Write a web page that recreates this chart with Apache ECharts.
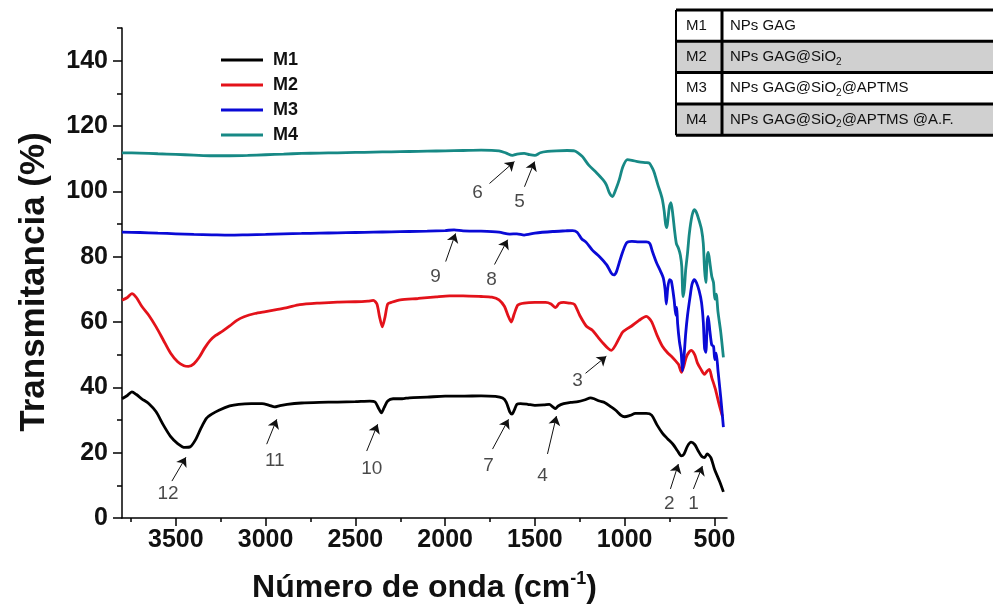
<!DOCTYPE html>
<html>
<head>
<meta charset="utf-8">
<script src="https://cdn.jsdelivr.net/npm/echarts@6/dist/echarts.min.js"></script>
<style>html,body{margin:0;padding:0;background:#fff;}#c{width:993px;height:611px;}</style>
</head>
<body>
<div id="c"></div>
<script>
// ---- data ----
const seriesNames = ['M1', 'M2', 'M3', 'M4'];

const wnM1 = [3800,3770,3745,3720,3690,3650,3610,3570,3530,3490,3450,3420,3390,3360,3330,3300,3260,3200,3150,3080,3020,2980,2950,2920,2880,2800,2700,2600,2500,2420,2390,2370,2355,2340,2320,2290,2240,2200,2100,2000,1900,1800,1720,1680,1660,1640,1628,1615,1600,1580,1540,1500,1450,1420,1400,1385,1370,1340,1300,1260,1220,1190,1170,1140,1110,1080,1050,1020,1000,970,940,880,850,820,790,760,730,705,685,670,650,630,610,590,570,555,540,520,500,470,450];
const tM1 = [36.5,37.5,38.6,37.8,36.5,35.0,32.5,28.5,25.0,22.8,21.6,21.8,24.0,27.5,30.5,31.8,33.0,34.3,34.8,35.0,35.0,34.5,34.0,34.4,34.8,35.2,35.4,35.5,35.6,35.8,35.5,33.5,32.2,33.8,35.8,36.5,36.5,36.8,37.0,37.3,37.3,37.4,37.2,36.7,35.5,32.5,31.8,33.0,34.8,35.0,34.8,34.5,34.6,34.8,34.0,33.5,34.3,35.0,35.4,35.6,36.2,36.8,36.5,35.8,35.3,34.2,33.0,31.4,31.0,31.4,32.0,32.0,31.5,28.5,26.0,24.2,22.5,20.5,19.0,19.5,22.0,23.2,22.5,20.5,18.8,18.5,19.6,18.5,15.0,11.0,8.0];

const wnM2 = [3800,3770,3745,3720,3690,3650,3610,3570,3530,3490,3455,3430,3400,3370,3340,3310,3280,3240,3200,3160,3120,3060,3000,2940,2880,2810,2700,2600,2500,2430,2400,2380,2365,2350,2335,2320,2300,2250,2150,2050,1975,1900,1800,1740,1700,1670,1650,1632,1615,1595,1560,1500,1440,1410,1385,1365,1340,1310,1280,1250,1213,1180,1152,1120,1090,1074,1050,1013,990,963,920,880,851,820,790,760,740,715,700,684,670,655,630,610,595,575,556,540,528,515,495,475,455];
const tM2 = [66.7,67.5,68.7,67.5,64.8,62.0,58.5,54.5,50.5,47.8,46.6,46.4,47.2,49.2,52.0,54.3,55.8,57.2,58.8,60.5,61.6,62.6,63.2,63.8,64.4,65.3,65.8,66.1,66.2,66.4,66.6,65.5,61.5,58.5,61.5,65.5,66.0,66.8,67.2,67.7,68.0,68.0,67.8,67.6,66.8,64.8,62.0,60.0,62.5,65.2,65.8,66.0,66.0,65.5,64.4,65.7,66.0,65.8,65.4,62.0,58.7,57.5,55.6,53.5,51.8,51.3,53.0,56.8,57.8,58.7,60.5,61.7,60.2,56.0,52.6,50.5,49.5,48.0,47.0,44.6,46.5,49.5,51.3,50.0,47.5,45.5,44.0,45.0,45.5,43.0,39.5,35.0,31.0];

const wnM3 = [3800,3700,3600,3500,3400,3300,3200,3100,3000,2900,2800,2700,2600,2500,2400,2300,2200,2100,2000,1950,1900,1800,1700,1640,1600,1560,1500,1400,1330,1290,1265,1240,1213,1180,1140,1100,1075,1060,1045,1020,990,960,920,880,860,845,823,800,785,775,768,760,750,740,725,715,710,705,695,685,678,670,660,650,635,625,612,600,585,572,562,555,548,540,535,525,515,505,498,490,480,465,450];
const tM3 = [87.5,87.4,87.2,87.0,86.8,86.7,86.6,86.7,86.8,87.0,87.1,87.2,87.3,87.4,87.5,87.6,87.7,87.8,88.0,88.2,87.9,87.8,87.5,86.9,87.0,86.6,87.2,87.7,87.9,88.0,87.5,85.5,84.3,82.0,80.0,77.5,75.0,74.4,75.5,80.0,84.2,84.7,84.5,84.5,84.0,81.5,78.2,75.5,73.5,70.0,65.5,70.5,73.0,72.5,67.0,62.0,64.5,59.5,54.0,50.5,45.0,49.0,56.5,62.0,68.0,71.5,73.0,72.0,69.5,66.0,60.0,52.0,50.7,60.0,61.7,57.0,53.0,52.5,48.5,50.5,45.0,37.0,27.8];

const wnM4 = [3800,3700,3600,3500,3400,3300,3200,3100,3000,2900,2800,2700,2600,2500,2400,2300,2200,2100,2000,1900,1800,1700,1660,1625,1600,1560,1530,1500,1470,1430,1380,1320,1280,1260,1235,1200,1157,1120,1102,1085,1068,1050,1030,1010,985,960,920,880,862,845,835,815,800,790,780,772,765,758,750,742,732,722,712,700,690,682,675,668,660,650,640,625,612,600,585,572,562,555,548,540,534,525,515,505,498,490,480,465,450];
const tM4 = [111.8,111.7,111.5,111.3,111.1,110.9,110.9,111.0,111.2,111.4,111.6,111.7,111.8,111.9,112.0,112.1,112.2,112.3,112.4,112.5,112.6,112.4,111.7,111.0,111.4,111.6,111.2,111.0,111.8,112.2,112.4,112.5,112.4,111.8,110.6,108.0,105.7,103.5,102.0,99.5,98.4,100.5,103.6,107.5,109.7,109.5,109.0,108.8,108.6,107.0,105.7,102.0,99.5,97.5,94.0,90.0,88.9,92.0,95.5,96.5,93.0,88.0,84.0,82.5,80.5,77.0,67.8,70.0,76.0,81.0,87.0,92.5,94.4,93.5,91.0,88.3,84.0,76.0,72.1,80.0,81.3,78.0,74.0,72.0,67.0,68.5,63.0,57.0,49.2];

// tick values
const xMajorTicks = [500,1000,1500,2000,2500,3000,3500];
const xMinorTicks = [750,1250,1750,2250,2750,3250,3750];
const yMajorTicks = [0,20,40,60,80,100,120,140];
const yMinorTicks = [10,30,50,70,90,110,130,150];

// peak annotations: label text, label position, arrow tail, arrow head (data units)
const annText  = ['12','11','10','9','8','7','4','3','6','5','2','1'];
const annLabelX = [3544,2949,2409,2053,1742,1758,1458,1263,1819,1586,751,617];
const annLabelY = [7.3,17.4,15.0,73.9,73.0,15.9,12.8,41.9,99.6,96.9,4.3,4.3];
const annTailX = [3522,2994,2437,1997,1725,1736,1430,1218,1753,1558,745,617];
const annTailY = [11.3,22.6,20.5,78.5,77.6,21.1,19.6,44.3,102.4,101.4,8.9,8.9];
const annHeadX = [3444,2938,2376,1942,1652,1647,1380,1102,1614,1502,701,567];
const annHeadY = [18.6,30.2,28.7,87.1,85.2,30.2,31.2,49.5,109.1,109.1,16.5,15.9];

// sample table
const tableCodes = ['M1','M2','M3','M4'];
const tableDesc = ['NPs GAG','NPs GAG@SiO{s|2}','NPs GAG@SiO{s|2}@APTMS','NPs GAG@SiO{s|2}@APTMS @A.F.'];

// ---- build ----
const colors = ['#000000', '#e3121a', '#0a0ad6', '#178985'];
const zip = (a, b) => a.map((v, i) => [v, b[i]]);
const allData = [zip(wnM1, tM1), zip(wnM2, tM2), zip(wnM3, tM3), zip(wnM4, tM4)];

const FONT = '"Liberation Sans", Arial, sans-serif';

const lineSeries = seriesNames.map((n, i) => ({
  name: n, type: 'line', data: allData[i], showSymbol: false, symbol: 'none',
  smooth: 0.25, lineStyle: { color: colors[i], width: 2.8 }, itemStyle: { color: colors[i] },
  xAxisIndex: 0, yAxisIndex: 0, animation: false, z: 3
}));

const arrowSeries = {
  type: 'lines', coordinateSystem: 'cartesian2d', xAxisIndex: 0, yAxisIndex: 0,
  symbol: ['none', 'arrow'], symbolSize: 9, silent: true, animation: false,
  lineStyle: { color: '#111', width: 1, opacity: 1 },
  data: annText.map((t, i) => ({ coords: [[annTailX[i], annTailY[i]], [annHeadX[i], annHeadY[i]]] })),
  z: 4
};

const labelSeries = {
  type: 'scatter', xAxisIndex: 0, yAxisIndex: 0, symbol: 'circle', symbolSize: 1, silent: true,
  itemStyle: { color: 'rgba(0,0,0,0)' }, animation: false,
  label: { show: true, position: 'inside', formatter: '{b}', fontFamily: FONT, fontSize: 19, color: '#1a1a1a' },
  data: annText.map((t, i) => ({ name: t, value: [annLabelX[i], annLabelY[i]] })),
  z: 4
};

// table graphic
const tX = 676, tY = 10, rowH = 31.3, col1W = 46, tW = 330;
const tableEls = [];
tableCodes.forEach((c, i) => {
  const y = tY + i * rowH;
  tableEls.push({ type: 'rect', shape: { x: tX, y: y, width: tW, height: rowH },
    style: { fill: i % 2 === 1 ? '#d0d0d0' : '#ffffff' } });
  tableEls.push({ type: 'text', x: tX + 10, y: y + rowH / 2,
    style: { text: c, fontFamily: FONT, fontSize: 15, fill: '#111', verticalAlign: 'middle' } });
  tableEls.push({ type: 'text', x: tX + col1W + 8, y: y + rowH / 2,
    style: { text: tableDesc[i], fontFamily: FONT, fontSize: 15, fill: '#111', verticalAlign: 'middle', lineHeight: 20,
      rich: { s: { fontFamily: FONT, fontSize: 10, fill: '#111', verticalAlign: 'bottom', lineHeight: 20 } } } });
});
for (let i = 0; i <= 4; i++) {
  tableEls.push({ type: 'line', shape: { x1: tX, y1: tY + i * rowH, x2: tX + tW, y2: tY + i * rowH },
    style: { stroke: '#000', lineWidth: 3 } });
}
tableEls.push({ type: 'line', shape: { x1: tX, y1: tY, x2: tX, y2: tY + 4 * rowH }, style: { stroke: '#000', lineWidth: 2 } });
tableEls.push({ type: 'line', shape: { x1: tX + col1W, y1: tY, x2: tX + col1W, y2: tY + 4 * rowH }, style: { stroke: '#000', lineWidth: 3 } });

const chart = echarts.init(document.getElementById('c'), null, { renderer: 'canvas' });
chart.setOption({
  animation: false,
  backgroundColor: '#ffffff',
  grid: { left: 122, right: 266, top: 28, bottom: 92, containLabel: false },
  legend: {
    data: seriesNames, orient: 'vertical', left: 216, top: 46, icon: 'rect',
    itemWidth: 42, itemHeight: 3, itemGap: 7, selectedMode: false,
    textStyle: { fontFamily: FONT, fontSize: 18, fontWeight: 'bold', color: '#111', lineHeight: 18, padding: [0, 0, 0, 5] }
  },
  xAxis: [{
    type: 'value', min: 430, max: 3800, inverse: true, position: 'bottom',
    name: 'Número de onda (cm{sup|-1})', nameLocation: 'middle', nameGap: 52,
    nameTextStyle: { fontFamily: FONT, fontSize: 32, fontWeight: 'bold', color: '#111', lineHeight: 36,
      rich: { sup: { fontFamily: FONT, fontSize: 18, fontWeight: 'bold', color: '#111', verticalAlign: 'top', lineHeight: 36 } } },
    axisLine: { onZero: false, lineStyle: { color: '#000', width: 1.5 } },
    axisTick: { show: true, customValues: xMajorTicks, length: 8, lineStyle: { color: '#000', width: 1.5 } },
    axisLabel: { customValues: xMajorTicks, formatter: v => String(v), fontFamily: FONT, fontSize: 25, fontWeight: 'bold', color: '#111', margin: 10 },
    splitLine: { show: false }
  }, {
    type: 'value', min: 430, max: 3800, inverse: true, position: 'bottom',
    axisLine: { show: false, onZero: false },
    axisTick: { show: true, customValues: xMinorTicks, length: 4, lineStyle: { color: '#000', width: 1.5 } },
    axisLabel: { show: false },
    splitLine: { show: false }
  }],
  yAxis: [{
    type: 'value', min: 0, max: 150, position: 'left',
    name: 'Transmitancia (%)', nameLocation: 'middle', nameGap: 70, nameRotate: 90,
    nameTextStyle: { fontFamily: FONT, fontSize: 35, fontWeight: 'bold', color: '#111', padding: [0, 18, 0, 0] },
    axisLine: { show: true, onZero: false, lineStyle: { color: '#000', width: 1.5 } },
    axisTick: { show: true, customValues: yMajorTicks, length: 9, lineStyle: { color: '#000', width: 1.5 } },
    axisLabel: { customValues: yMajorTicks, formatter: v => String(v), fontFamily: FONT, fontSize: 25, fontWeight: 'bold', color: '#111', margin: 14 },
    splitLine: { show: false }
  }, {
    type: 'value', min: 0, max: 150, position: 'left',
    axisLine: { show: false, onZero: false },
    axisTick: { show: true, customValues: yMinorTicks, length: 5, lineStyle: { color: '#000', width: 1.5 } },
    axisLabel: { show: false },
    splitLine: { show: false }
  }],
  series: [...lineSeries, arrowSeries, labelSeries],
  graphic: { elements: tableEls }
});
</script>
</body>
</html>
